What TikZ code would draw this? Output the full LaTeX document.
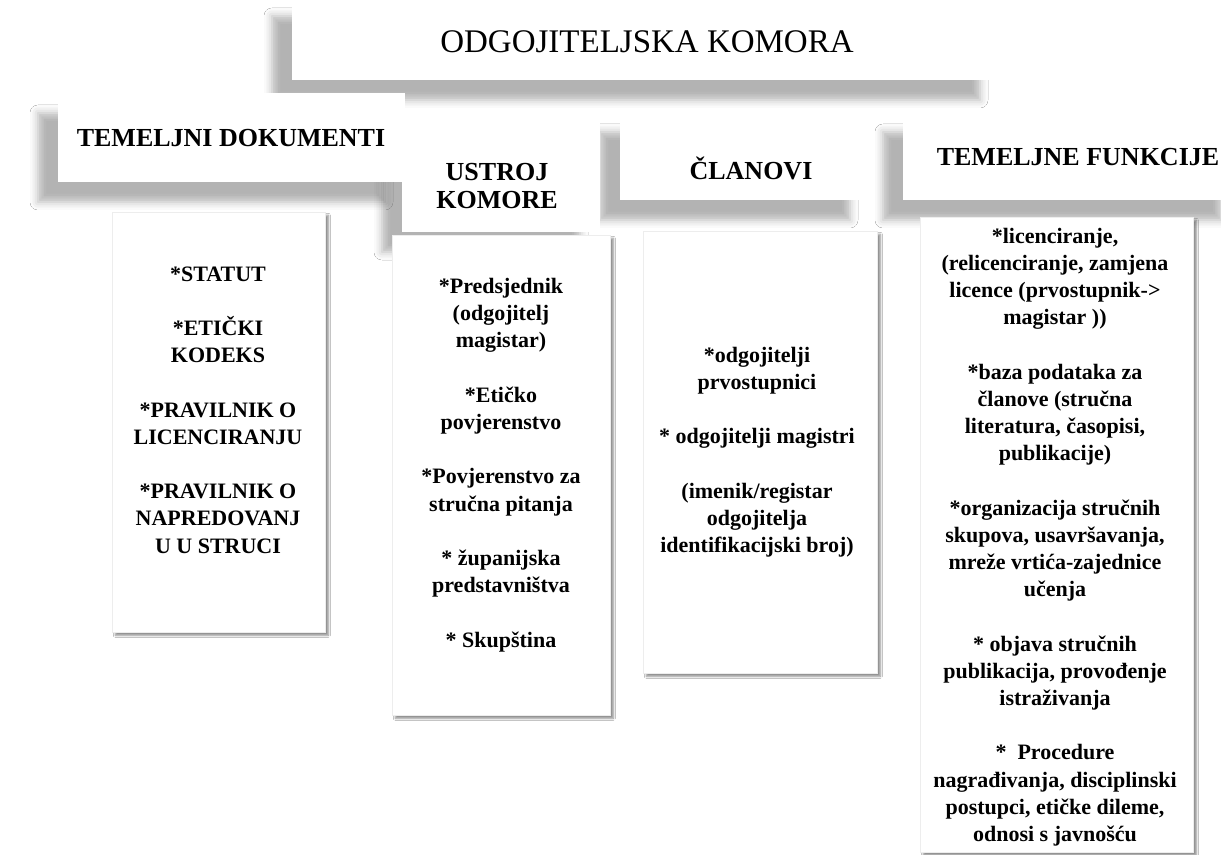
\documentclass[tikz,border=0pt]{standalone}
\usepackage{fontspec}
\setmainfont{Liberation Serif}
\usetikzlibrary{shadows.blur}

\begin{document}
\begin{tikzpicture}[x=0.75pt,y=-0.75pt]
\tikzset{head box/.style={shape=rectangle, fill=white, inner sep=0pt,
            blur shadow={shadow xshift=-15pt, shadow yshift=-15pt,
                         shadow blur radius=6pt, shadow opacity=30}},
         list box/.style={shape=rectangle, fill=white, draw=black!7, line width=0.3pt, inner sep=0pt,
            blur shadow={shadow xshift=2.5pt, shadow yshift=-2.5pt,
                         shadow blur radius=1.5pt, shadow opacity=45}},
         box size/.style 2 args={minimum width=#1*0.75pt, minimum height=#2*0.75pt},
         head text/.style={font=\bfseries\fontsize{19.5}{21}\selectfont, align=center, inner sep=0pt},
         list text/.style={font=\bfseries\fontsize{16.5}{20.4}\selectfont, align=center, inner sep=0pt}}

\useasboundingbox (0,0) rectangle (1221,855);
\fill[white] (0,0) rectangle (1221,855);

% naslov
\node[head box, box size={708}{84}] at (646, 38)   (komora)  {};
\node[inner sep=0pt, font=\fontsize{24.75}{28}\selectfont] at (647, 42) (komoraT) {ODGOJITELJSKA KOMORA};

% zaglavlja stupaca (s desna na lijevo, lijevo je gore)
\node[head box, box size={338}{88}]  at (1072, 156)    (funkcije)  {};
\node[head text] at (1078, 157)  (funkcijeT)  {TEMELJNE FUNKCIJE};

\node[head box, box size={250}{88}]  at (745, 156)     (clanovi)   {};
\node[head text] at (751, 168)   (clanoviT)   {ČLANOVI};

\node[head box, box size={198}{120}] at (501, 172)     (ustroj)    {};
\node[head text] at (497, 186)   (ustrojT)    {USTROJ\\KOMORE};

\node[head box, box size={347}{89}]  at (231.5, 137.5) (dokumenti) {};
\node[head text] at (231, 138)   (dokumentiT) {TEMELJNI DOKUMENTI};

% sadrzaj stupaca
\node[list box, box size={213}{420}] at (218.5, 422)   (dokumentiL) {};
\node[list text] at (218, 410)   (dokumentiX) {*STATUT\\[20.4pt]{}*ETIČKI\\KODEKS\\[20.4pt]{}*PRAVILNIK O\\LICENCIRANJU\\[20.4pt]{}*PRAVILNIK O\\NAPREDOVANJ\\U U STRUCI};

\node[list box, box size={218}{480}] at (501, 475)     (ustrojL)    {};
\node[list text] at (501, 465)   (ustrojX)    {*Predsjednik\\(odgojitelj\\magistar)\\[20.4pt]{}*Etičko\\povjerenstvo\\[20.4pt]{}*Povjerenstvo za\\stručna pitanja\\[20.4pt]{}* županijska\\predstavništva\\[20.4pt]{}* Skupština};

\node[list box, box size={234}{442}] at (760, 452)     (clanoviL)   {};
\node[list text] at (757, 452)   (clanoviX)   {*odgojitelji\\prvostupnici\\[20.4pt]{}* odgojitelji magistri\\[20.4pt](imenik/registar\\odgojitelja\\identifikacijski broj)};

\node[list box, box size={273}{635}] at (1056.5, 534.5) (funkcijeL) {};
\node[list text] at (1055, 537)  (funkcijeX)  {*licenciranje,\\(relicenciranje, zamjena\\licence (prvostupnik->\\magistar ))\\[20.4pt]{}*baza podataka za\\članove (stručna\\literatura, časopisi,\\publikacije)\\[20.4pt]{}*organizacija stručnih\\skupova, usavršavanja,\\mreže vrtića-zajednice\\učenja\\[20.4pt]{}* objava stručnih\\publikacija, provođenje\\istraživanja\\[20.4pt]{}*\ \ Procedure\\nagrađivanja, disciplinski\\postupci, etičke dileme,\\odnosi s javnošću};
\end{tikzpicture}
\end{document}
